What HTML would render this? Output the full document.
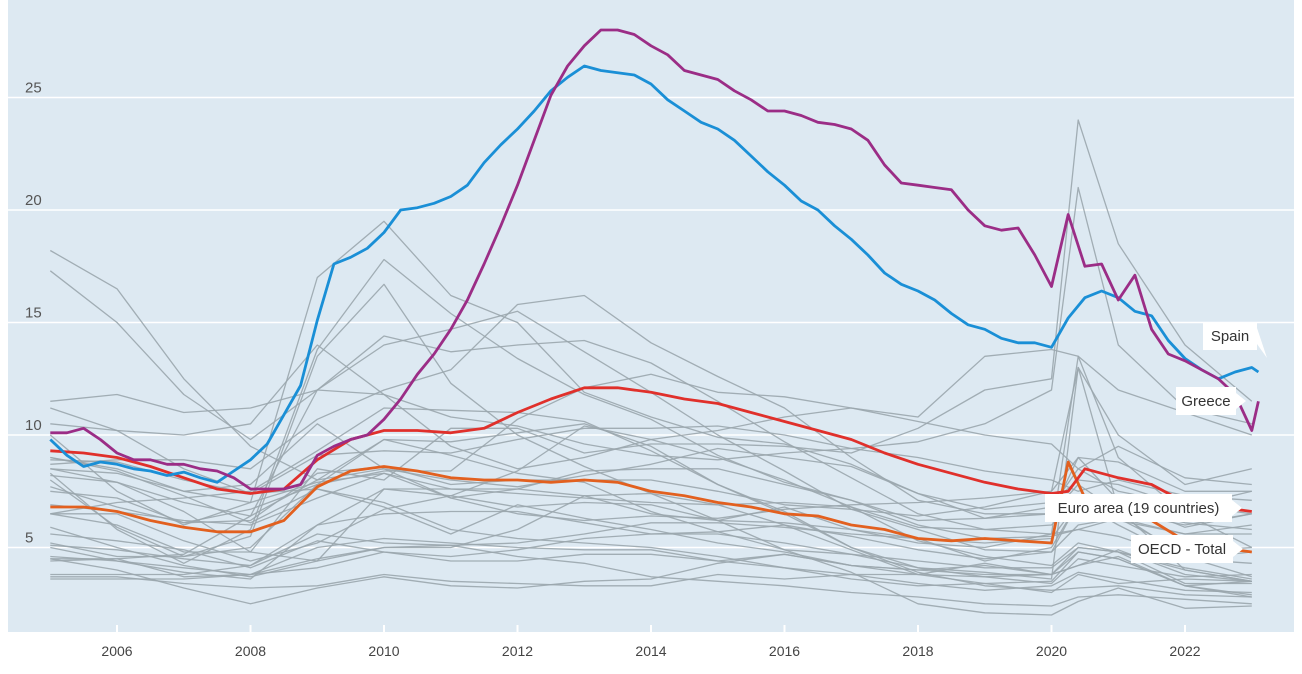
<!DOCTYPE html>
<html><head><meta charset="utf-8">
<style>
html,body{margin:0;padding:0;background:#fff;}
body{width:1302px;height:669px;overflow:hidden;font-family:"Liberation Sans",sans-serif;}
svg text{font-family:"Liberation Sans",sans-serif;}
</style></head>
<body>
<svg id="chart" width="1302" height="669" xmlns="http://www.w3.org/2000/svg">
<rect x="8" y="0" width="1286" height="632" fill="#dde9f2"/>
<g id="grid"></g><g id="grey"></g><g id="main"></g><g id="labels"></g>
</svg>
<script>
const yTicks=[5,10,15,20,25];
const xTicks=[2006,2008,2010,2012,2014,2016,2018,2020,2022];
const greyDates=[2005,2006,2007,2008,2009,2010,2011,2012,2013,2014,2015,2016,2017,2018,2019,2020,2020.4,2021,2022,2023];
const grey1=[18.2,16.5,12.5,9.5,8.0,9.8,9.7,10.1,10.5,9.5,7.8,6.5,5.0,3.9,3.3,3.1,3.2,3.3,2.9,2.8];
const grey2=[17.3,15.0,11.8,9.8,12.0,14.4,13.7,14.0,14.2,13.2,11.5,9.7,8.1,6.5,5.8,6.0,7.0,6.8,6.1,5.8];
const grey3=[10.0,7.5,6.0,7.0,17.0,19.5,16.2,15.0,11.9,10.8,9.9,9.6,8.7,7.4,6.3,6.8,8.5,7.5,6.9,6.5];
const grey4=[8.0,5.9,4.6,5.5,13.5,16.7,12.3,10.0,8.6,7.4,6.2,6.8,5.8,5.4,4.4,5.0,7.0,6.2,5.6,6.0];
const grey5=[8.3,5.8,4.3,5.8,13.8,17.8,15.4,13.4,11.8,10.7,9.1,7.9,7.1,6.2,6.3,6.5,9.0,7.1,5.9,6.5];
const grey6=[4.4,4.5,4.7,6.4,12.0,14.0,14.7,15.5,13.7,11.9,10.0,8.4,6.7,5.8,4.9,4.8,7.0,6.0,4.5,4.3];
const grey7=[8.7,8.9,8.9,8.5,10.7,12.0,12.9,15.8,16.2,14.1,12.6,11.2,9.0,7.1,6.5,6.5,7.8,6.6,6.0,6.5];
const grey8=[7.7,6.8,6.1,6.7,7.8,8.4,8.4,10.7,12.1,12.7,11.9,11.7,11.2,10.6,10.0,9.6,8.5,9.5,8.1,7.8];
const grey9=[8.9,8.8,8.0,7.4,9.1,9.3,9.2,9.8,10.3,10.3,10.4,10.0,9.4,9.0,8.4,8.0,7.5,8.0,7.3,7.1];
const grey10=[11.5,11.8,11.0,11.2,12.0,11.8,10.8,10.4,9.6,9.1,8.9,9.2,9.4,9.7,10.5,12.0,21.0,14.0,11.2,10.5];
const grey11=[9.0,8.5,7.5,7.8,10.5,8.5,7.2,6.5,6.2,6.4,6.3,6.7,6.9,7.0,7.2,7.5,13.0,10.0,7.8,8.5];
const grey12=[6.5,6.0,4.8,4.8,8.5,8.0,10.3,10.3,9.2,9.6,9.6,9.5,9.2,10.3,12.0,12.5,24.0,18.5,14.0,11.5];
const grey13=[10.5,10.2,10.0,10.5,14.0,11.8,9.5,8.5,9.0,9.8,10.2,10.8,11.2,10.8,13.5,13.8,13.5,12.0,11.0,10.0];
const grey14=[8.5,7.9,7.0,6.4,8.0,8.5,8.0,7.7,8.2,8.7,9.4,9.0,8.6,7.4,6.7,7.0,8.0,7.8,6.8,7.5];
const grey15=[7.5,7.2,6.1,6.2,8.3,8.6,7.8,8.0,8.0,8.0,7.5,6.9,6.7,6.4,6.8,7.5,9.0,8.8,7.5,7.5];
const grey16=[8.5,8.3,7.5,7.0,7.9,8.3,7.2,7.6,8.4,8.5,8.5,7.8,7.1,6.0,5.4,5.5,5.8,6.3,5.6,5.6];
const grey17=[5.6,5.3,4.9,4.1,5.3,4.8,4.6,4.9,5.4,5.6,5.7,6.0,5.5,4.9,4.5,4.8,6.0,6.3,4.8,5.0];
const grey18=[11.2,10.2,8.5,7.4,7.6,7.0,5.8,5.4,5.2,5.0,4.6,4.1,3.8,3.4,3.1,3.3,3.9,3.6,3.1,3.0];
const grey19=[5.9,5.0,4.2,3.7,4.4,5.0,5.0,5.8,7.3,7.4,6.9,6.0,4.9,3.8,3.4,3.0,3.8,3.4,3.6,3.5];
const grey20=[5.2,4.6,4.6,5.0,7.8,9.8,9.1,8.3,7.9,6.6,5.7,4.9,4.7,4.1,3.9,3.6,13.0,6.7,4.0,3.5];
const grey21=[6.9,6.6,6.2,6.0,7.2,8.3,7.6,7.4,7.2,7.0,6.9,7.0,6.8,5.9,5.8,5.6,13.5,9.0,6.5,5.0];
const grey22=[4.6,4.4,4.1,3.8,4.5,5.0,5.1,4.6,4.3,3.7,3.5,3.3,3.0,2.8,2.5,2.4,2.8,2.9,2.7,2.5];
const grey23=[3.7,3.7,3.4,3.2,3.3,3.8,3.5,3.4,3.3,3.3,3.8,3.6,3.8,3.8,4.3,3.8,4.2,4.6,3.3,2.9];
const grey24=[8.2,7.9,6.6,4.8,4.4,7.6,7.3,6.8,7.0,6.9,6.2,4.9,3.9,2.5,2.1,2.0,2.6,3.2,2.3,2.4];
const grey25=[4.5,4.5,3.7,3.8,4.1,4.8,4.4,4.4,4.7,4.7,4.4,4.7,4.2,4.0,4.2,3.8,5.0,4.8,4.0,3.5];
const grey26=[6.5,7.0,7.2,7.5,9.3,11.2,11.1,11.0,10.6,9.3,7.8,6.6,5.0,4.1,3.7,3.4,4.5,4.2,3.7,3.8];
const grey27=[6.5,6.5,5.3,4.4,5.2,6.7,7.3,8.4,10.4,9.8,9.0,8.0,6.8,5.3,4.6,4.2,5.2,4.8,4.1,3.6];
const grey28=[9.0,8.4,7.3,6.1,7.6,6.8,5.6,6.9,6.3,5.8,5.2,4.8,4.2,4.0,3.8,3.8,4.2,4.9,3.8,3.5];
const grey29=[3.6,3.6,3.6,3.8,5.0,5.4,5.2,5.0,4.9,4.9,4.4,4.1,3.6,3.3,3.4,3.5,4.8,4.5,3.3,2.8];
const grey30=[5.1,4.9,4.5,4.2,5.6,5.2,5.1,5.2,5.6,6.1,6.1,5.9,5.6,5.4,5.2,5.4,7.0,6.5,4.6,3.7];
const grey31=[5.0,4.4,3.9,3.6,6.0,7.6,7.6,7.6,7.3,6.5,6.2,6.1,5.8,5.2,5.0,5.6,5.8,5.5,4.5,4.8];
const grey32=[4.5,4.0,3.2,2.5,3.2,3.7,3.3,3.2,3.5,3.6,4.3,4.7,4.2,3.8,3.7,3.8,4.8,4.5,3.3,3.5];
const grey33=[3.8,3.8,3.8,4.2,6.0,6.5,6.6,6.6,6.1,5.6,5.6,5.2,4.7,4.4,4.1,4.1,5.0,4.8,3.4,3.4];
const greySeries=[grey1,grey2,grey3,grey4,grey5,grey6,grey7,grey8,grey9,grey10,grey11,grey12,grey13,grey14,grey15,grey16,grey17,grey18,grey19,grey20,grey21,grey22,grey23,grey24,grey25,grey26,grey27,grey28,grey29,grey30,grey31,grey32,grey33];

const halfDates=[2005,2005.5,2006,2006.5,2007,2007.5,2008,2008.5,2009,2009.5,2010,2010.5,2011,2011.5,2012,2012.5,2013,2013.5,2014,2014.5,2015,2015.5,2016,2016.5,2017,2017.5,2018,2018.5,2019,2019.5,2020,2020.25,2020.5,2021,2021.5,2022,2022.5,2023];
const euroValues=[9.3,9.2,9.0,8.6,8.1,7.6,7.4,7.6,8.9,9.8,10.2,10.2,10.1,10.3,11.0,11.6,12.1,12.1,11.9,11.6,11.4,11.0,10.6,10.2,9.8,9.2,8.7,8.3,7.9,7.6,7.4,7.5,8.5,8.1,7.8,7.0,6.8,6.6];
const oecdValues=[6.8,6.8,6.6,6.2,5.9,5.7,5.7,6.2,7.7,8.4,8.6,8.4,8.1,8.0,8.0,7.9,8.0,7.9,7.5,7.3,7.0,6.8,6.5,6.4,6.0,5.8,5.4,5.3,5.4,5.3,5.2,8.8,7.2,6.7,6.2,5.3,5.0,4.8];

const quarterDates=[];for(let t=2005;t<=2023.001;t+=0.25)quarterDates.push(+t.toFixed(2));quarterDates.push(2023.1);
const spainValues=[9.8,9.1,8.6,8.8,8.7,8.5,8.4,8.2,8.35,8.1,7.9,8.4,8.9,9.6,10.9,12.2,15.1,17.6,17.9,18.3,19.0,20.0,20.1,20.3,20.6,21.1,22.1,22.9,23.6,24.4,25.3,25.9,26.4,26.2,26.1,26.0,25.6,24.9,24.4,23.9,23.6,23.1,22.4,21.7,21.1,20.4,20.0,19.3,18.7,18.0,17.2,16.7,16.4,16.0,15.4,14.9,14.7,14.3,14.1,14.1,13.9,15.2,16.1,16.4,16.1,15.5,15.3,14.2,13.4,12.9,12.5,12.8,13.0,12.8];
const greeceValues=[10.1,10.1,10.3,9.8,9.2,8.9,8.9,8.7,8.7,8.5,8.4,8.1,7.6,7.6,7.6,7.8,9.1,9.5,9.8,10.0,10.7,11.6,12.7,13.6,14.7,16.0,17.6,19.3,21.1,23.1,25.1,26.4,27.3,28.0,28.0,27.8,27.3,26.9,26.2,26.0,25.8,25.3,24.9,24.4,24.4,24.2,23.9,23.8,23.6,23.1,22.0,21.2,21.1,21.0,20.9,20.0,19.3,19.1,19.2,18.0,16.6,19.8,17.5,17.6,16.0,17.1,14.7,13.6,13.3,12.9,12.5,11.8,10.2,11.5];

const NS='http://www.w3.org/2000/svg';
const X=t=>117+(t-2006)*66.75;
const Y=v=>660-v*22.5;
function el(tag,attrs,parent){const e=document.createElementNS(NS,tag);for(const k in attrs)e.setAttribute(k,attrs[k]);parent.appendChild(e);return e;}
function pathD(dates,vals){return vals.map((v,i)=>(i?'L':'M')+X(dates[i]).toFixed(1)+','+Y(v).toFixed(1)).join('');}
const grid=document.getElementById('grid');
yTicks.forEach(v=>{
  const l=el('line',{x1:8,x2:1294,y1:Y(v),y2:Y(v),stroke:'#fff','stroke-width':1.6},grid);
  
  
  const t=el('text',{x:25,y:Y(v)-5,'font-size':15,fill:'#555'},grid);
  t.textContent=v;
  
  
});
xTicks.forEach(yr=>{
  const l=el('line',{x1:X(yr),x2:X(yr),y1:625,y2:632,stroke:'#fff','stroke-width':2},grid);
  
  
  const t=el('text',{x:X(yr),y:656,'font-size':14,fill:'#444','text-anchor':'middle'},grid);
  t.textContent=yr;
  
  
});
const g=document.getElementById('grey');
greySeries.forEach((s,i)=>{
  const p=el('path',{d:pathD(greyDates,s),fill:'none',stroke:'#9aa6ad','stroke-width':1.3,'stroke-linejoin':'round','stroke-opacity':0.9},g);
  
  
});
const m=document.getElementById('main');
const mains=[['oecd-total-line',halfDates,oecdValues,'#e2601f'],['euro-area-line',halfDates,euroValues,'#e0302b'],['spain-line',quarterDates,spainValues,'#1a8fd6'],['greece-line',quarterDates,greeceValues,'#9b2d86']];
mains.forEach(s=>{
  const p=el('path',{d:pathD(s[1],s[2]),fill:'none',stroke:s[3],'stroke-width':2.8,'stroke-linejoin':'round'},m);
  
  
});
const lab=document.getElementById('labels');
[['spain-label','Spain',1203,322,54],['greece-label','Greece',1176,387,60],['euro-area-label','Euro area (19 countries)',1045,494,187],['oecd-total-label','OECD - Total',1131,535,102]].forEach(a=>{
  const gg=el('g',{},lab);
  
  
  el('rect',{x:a[2],y:a[3],width:a[4],height:28,fill:'#fff'},gg);
  el('polygon',{points:`${a[2]+a[4]},${a[3]+6} ${a[2]+a[4]+10},${a[3]+(a[0]==='spain-label'?36:14)} ${a[2]+a[4]},${a[3]+22}`,fill:'#fff'},gg);
  const t=el('text',{x:a[2]+a[4]/2,y:a[3]+19,'font-size':15,fill:'#333','text-anchor':'middle'},gg);
  t.textContent=a[1];
});
</script>
</body></html>
